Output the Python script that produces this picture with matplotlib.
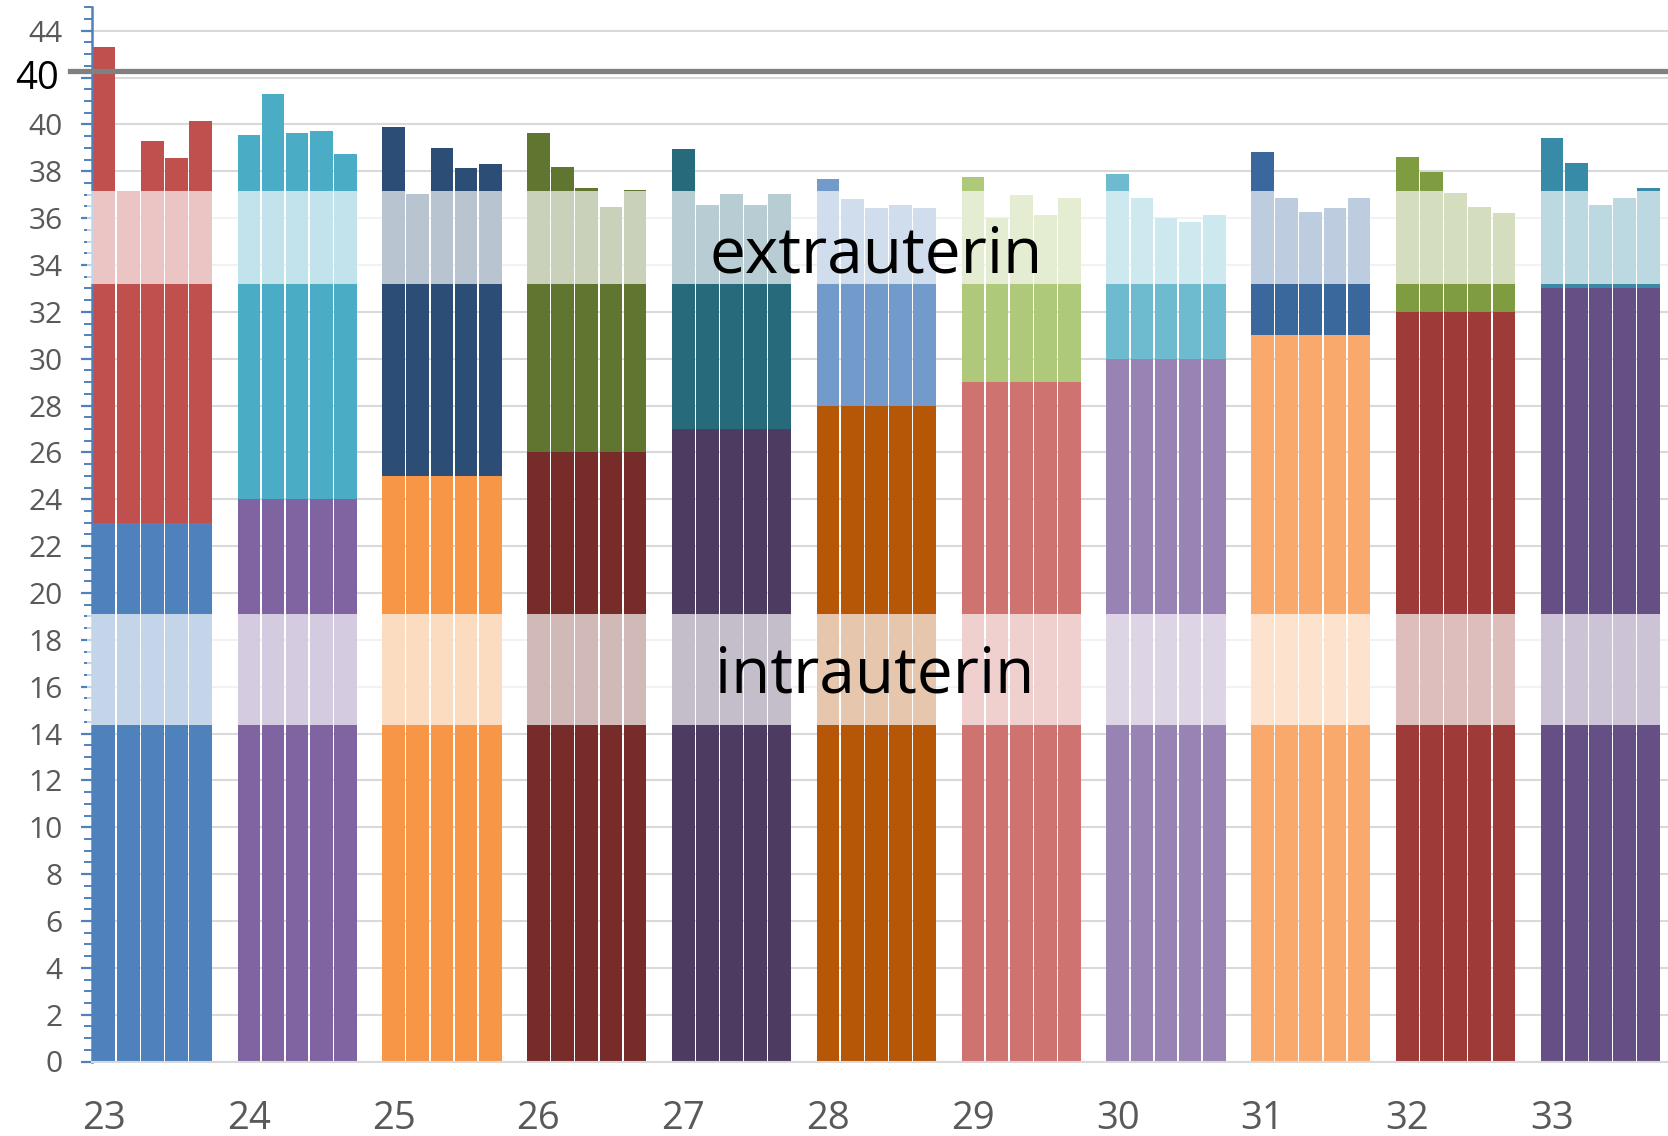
import matplotlib.pyplot as plt
from matplotlib.ticker import MultipleLocator
import numpy as np

# week groups, each with 5 bars
weeks = [23, 24, 25, 26, 27, 28, 29, 30, 31, 32, 33]

# where the intrauterine part ends (= start of the extrauterine part)
intra_end = [23, 24, 25, 26, 27, 28, 29, 30, 31, 32, 33]

# total height of each bar (top of extrauterine part)
extra_top = [
    [43.3, 37.15, 39.3, 38.56, 40.13],
    [39.56, 41.28, 39.64, 39.71, 38.72],
    [39.87, 37.04, 39.0, 38.13, 38.29],
    [39.64, 38.2, 37.29, 36.46, 37.2],
    [38.93, 36.58, 37.02, 36.58, 37.02],
    [37.67, 36.81, 36.43, 36.57, 36.44],
    [37.75, 36.02, 37.0, 36.14, 36.86],
    [37.89, 36.86, 35.99, 35.85, 36.12],
    [38.83, 36.86, 36.26, 36.43, 36.86],
    [38.61, 37.98, 37.07, 36.49, 36.2],
    [39.41, 38.34, 36.56, 36.86, 37.27],
]

intra_colors = ['#4F81BD', '#8064A2', '#F79646', '#772C2A', '#4D3B62', '#B65708',
                '#CF7371', '#9983B5', '#F9A96B', '#9E3A38', '#654F85']
extra_colors = ['#C0504D', '#4BACC6', '#2C4D75', '#5F7530', '#276A7C', '#729ACA',
                '#AFC97A', '#6EBBD0', '#3A689D', '#7F9D40', '#378BA6']

# faded bands
intra_band = (14.37, 19.1)
extra_band = (33.2, 37.17)

# reference line and its label
ref_line = 42.3
ref_label = '40'

ytick_vals = [0, 2, 4, 6, 8, 10, 12, 14, 16, 18, 20, 22, 24, 26, 28, 30, 32, 34, 36, 38, 40, 42, 44]
ytick_labels = [str(v) if v != 42 else '' for v in ytick_vals]

plt.rcParams['font.family'] = ['Open Sans', 'DejaVu Sans']

fig = plt.figure(figsize=(16.68, 11.36), dpi=100)
ax = fig.add_axes([92 / 1668, 74.5 / 1136, 1 - 92 / 1668, (1061.5 - 7.3) / 1136])

n_bars = 5
for g, wk in enumerate(weeks):
    x = g * (n_bars + 1) + np.arange(n_bars)
    tops = np.array(extra_top[g])
    ax.bar(x, intra_end[g], width=0.94, color=intra_colors[g], lw=0, zorder=2)
    ax.bar(x, tops - intra_end[g], bottom=intra_end[g], width=0.94,
           color=extra_colors[g], lw=0, zorder=2)

# white translucent bands over everything
for lo, hi in (intra_band, extra_band):
    ax.axhspan(lo, hi, xmin=-0.003, xmax=1, color='white', alpha=0.67, lw=0,
               zorder=5, clip_on=False)

ax.axhline(ref_line, xmin=-0.014, xmax=1, color='#808080', lw=3.8, zorder=6, clip_on=False)
ax.text(-0.0207, ref_line - 0.15, ref_label, transform=ax.get_yaxis_transform(),
        ha='right', va='center_baseline', fontsize=27.5, color='black')

ax.text(32.0, 33.7, 'extrauterin', fontsize=46, ha='center', va='baseline', zorder=7)
ax.text(31.93, 15.73, 'intrauterin', fontsize=46, ha='center', va='baseline', zorder=7)

ax.set_xlim(-0.5, 64.8)
ax.set_ylim(0, 45)

ax.set_yticks(ytick_vals)
ax.set_yticklabels(ytick_labels)
ax.yaxis.set_minor_locator(MultipleLocator(0.5))
ax.tick_params(axis='y', which='major', length=8, width=1.6, color='#4F81BD',
               labelcolor='#595959', labelsize=21.5, pad=13)
ax.tick_params(axis='y', which='minor', length=6, width=1.4, color='#4F81BD')

ax.set_xticks([g * (n_bars + 1) for g in range(len(weeks))])
ax.set_xticklabels([str(w) for w in weeks])
ax.tick_params(axis='x', length=0, labelcolor='#595959', labelsize=27.5, pad=28)

ax.yaxis.grid(True, color='#D9D9D9', lw=1.5)
ax.set_axisbelow(True)

for s in ('top', 'right'):
    ax.spines[s].set_visible(False)
ax.spines['left'].set_color('#4F81BD')
ax.spines['left'].set_linewidth(1.8)
ax.spines['bottom'].set_color('#D9D9D9')
ax.spines['bottom'].set_linewidth(1.5)

fig.savefig('out.png', dpi=100)
